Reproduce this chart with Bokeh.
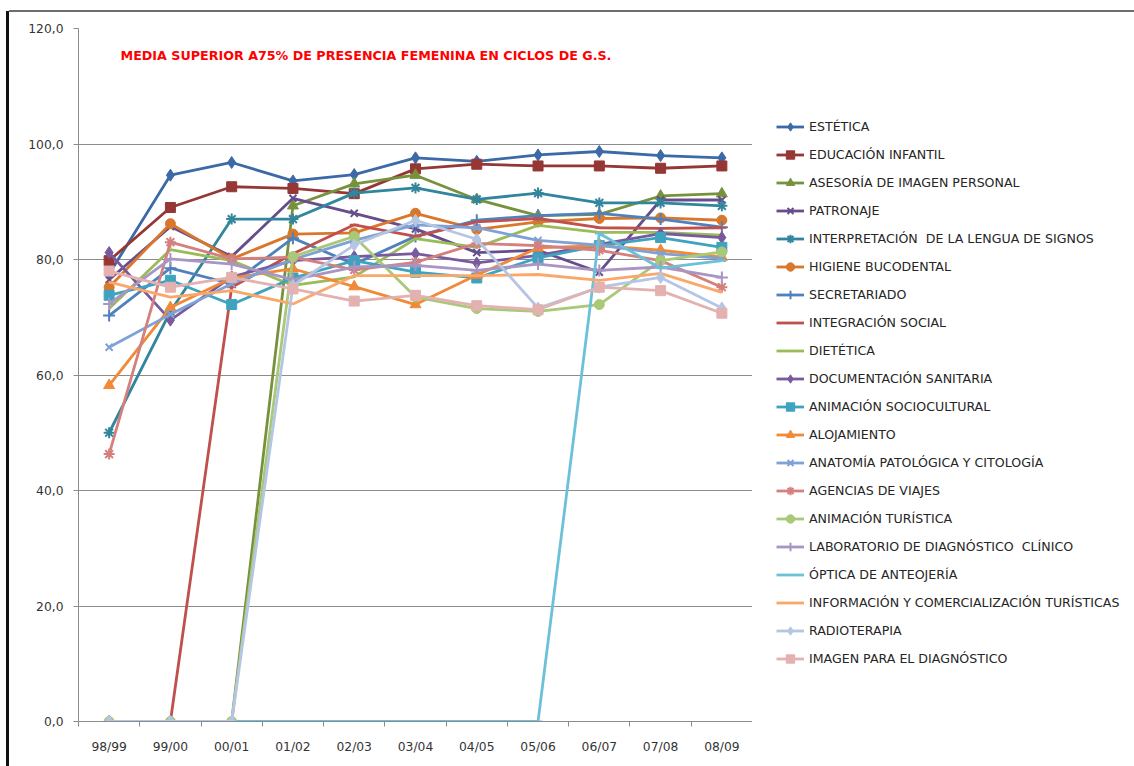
from bokeh.plotting import figure
from bokeh.layouts import row
from bokeh.models import (FactorRange, Range1d, LinearAxis, CategoricalAxis, FixedTicker,
                          Legend, LegendItem, Label, InlineStyleSheet)
from bokeh.embed import file_html
from bokeh.resources import INLINE

# ---------------- data ----------------
cats = ["98/99", "99/00", "00/01", "01/02", "02/03", "03/04", "04/05", "05/06", "06/07", "07/08", "08/09"]
y_ticks = [0, 20, 40, 60, 80, 100, 120]
y_tick_labels = ["0,0", "20,0", "40,0", "60,0", "80,0", "100,0", "120,0"]
title_text = "MEDIA SUPERIOR A75% DE PRESENCIA FEMENINA EN CICLOS DE G.S."

names = [
    "ESTÉTICA", "EDUCACIÓN INFANTIL", "ASESORÍA DE IMAGEN PERSONAL", "PATRONAJE",
    "INTERPRETACIÓN  DE LA LENGUA DE SIGNOS", "HIGIENE BUCODENTAL", "SECRETARIADO",
    "INTEGRACIÓN SOCIAL", "DIETÉTICA", "DOCUMENTACIÓN SANITARIA", "ANIMACIÓN SOCIOCULTURAL",
    "ALOJAMIENTO", "ANATOMÍA PATOLÓGICA Y CITOLOGÍA", "AGENCIAS DE VIAJES", "ANIMACIÓN TURÍSTICA",
    "LABORATORIO DE DIAGNÓSTICO  CLÍNICO", "ÓPTICA DE ANTEOJERÍA",
    "INFORMACIÓN Y COMERCIALIZACIÓN TURÍSTICAS", "RADIOTERAPIA", "IMAGEN PARA EL DIAGNÓSTICO",
]

estetica = [77.5, 94.6, 96.8, 93.6, 94.7, 97.6, 97.0, 98.1, 98.7, 98.0, 97.6]
educacion_infantil = [79.8, 89.0, 92.6, 92.3, 91.4, 95.7, 96.5, 96.2, 96.2, 95.8, 96.2]
asesoria_imagen = [0.0, 0.0, 0.0, 89.3, 93.1, 94.6, 90.4, 87.6, 87.8, 91.0, 91.4]
patronaje = [76.5, 85.7, 80.5, 90.6, 88.0, 85.3, 81.2, 81.6, 77.8, 90.3, 90.3]
interpretacion = [50.0, 71.0, 87.0, 87.0, 91.5, 92.4, 90.4, 91.5, 89.8, 89.8, 89.3]
higiene = [75.2, 86.2, 80.1, 84.4, 84.6, 88.0, 85.2, 86.5, 87.1, 87.2, 86.8]
secretariado = [70.3, 78.5, 75.8, 83.7, 79.2, 84.0, 86.8, 87.6, 88.0, 87.0, 85.6]
integracion = [0.0, 0.0, 75.2, 81.0, 86.0, 84.0, 86.5, 87.1, 85.5, 85.4, 85.5]
dietetica = [71.5, 81.7, 79.8, 75.5, 77.0, 83.6, 82.1, 85.9, 84.7, 84.7, 84.2]
documentacion = [81.2, 69.5, 77.0, 79.8, 80.5, 81.0, 79.4, 80.7, 82.6, 84.5, 83.8]
animacion_socio = [73.8, 76.4, 72.2, 76.8, 79.8, 77.8, 76.8, 80.3, 82.4, 83.8, 82.1]
alojamiento = [58.2, 71.7, 76.8, 78.4, 75.3, 72.2, 77.3, 82.0, 82.4, 81.6, 80.4]
anatomia = [64.8, 70.5, 75.8, 80.0, 83.3, 86.0, 85.5, 83.3, 82.5, 81.0, 80.2]
agencias = [46.3, 83.0, 80.1, 80.4, 78.2, 79.5, 82.8, 82.4, 81.6, 79.8, 75.2]
animacion_turistica = [0.0, 0.0, 0.0, 80.5, 84.0, 73.5, 71.5, 71.0, 72.2, 79.8, 81.3]
laboratorio = [72.3, 80.1, 79.2, 76.5, 78.7, 79.0, 78.1, 79.2, 78.1, 78.7, 76.9]
optica = [0.0, 0.0, 0.0, 0.0, 0.0, 0.0, 0.0, 0.0, 84.5, 78.5, 79.8]
informacion = [76.1, 73.5, 74.6, 72.3, 77.2, 77.2, 77.2, 77.4, 76.4, 77.6, 74.3]
radioterapia = [0.0, 0.0, 0.0, 75.5, 82.5, 86.8, 83.5, 71.6, 75.2, 76.9, 71.6]
imagen_diagnostico = [78.0, 75.2, 76.9, 74.9, 72.8, 73.8, 72.0, 71.3, 75.2, 74.6, 70.7]

series = [estetica, educacion_infantil, asesoria_imagen, patronaje, interpretacion, higiene,
          secretariado, integracion, dietetica, documentacion, animacion_socio, alojamiento,
          anatomia, agencias, animacion_turistica, laboratorio, optica, informacion,
          radioterapia, imagen_diagnostico]

colors = ["#3B6AA6", "#953735", "#76923C", "#664D8C", "#31859C", "#D9782D", "#4F81BD",
          "#C0504D", "#9BBB59", "#7A5A9E", "#3FA3BF", "#F08A37", "#7EA1D6", "#D4807E",
          "#A9C878", "#A895C4", "#6CC0D8", "#FAA86A", "#B4C6E4", "#E2B1B0"]
markers = ["diamond", "square", "triangle", "x", "asterisk", "circle", "cross", "dash", None,
           "diamond", "square", "triangle", "x", "asterisk", "circle", "cross", "dash", None,
           "diamond", "square"]
msizes = {"diamond": 12, "square": 10, "triangle": 11, "x": 10, "asterisk": 11, "circle": 10,
          "cross": 12, "dash": 9}

# ---------------- layout ----------------
H = 766
W_MAIN, W_LEG = 752, 382
FL, FT, FB = 78, 28, 721
FONT = "DejaVu Sans"
GRID = "#8C8C8C"

p = figure(width=W_MAIN, height=H, x_range=FactorRange(*cats), y_range=Range1d(0, 120),
           output_backend="svg", toolbar_location=None, x_axis_location=None,
           y_axis_location=None, min_border_left=FL, min_border_right=0,
           min_border_top=FT, min_border_bottom=H - FB)
p.outline_line_color = None
p.background_fill_color = "white"
p.border_fill_color = None

yaxis = LinearAxis(ticker=FixedTicker(ticks=y_ticks),
                   major_label_overrides={t: l for t, l in zip(y_ticks, y_tick_labels)})
yaxis.axis_line_color = GRID
yaxis.major_tick_line_color = GRID
yaxis.major_tick_in = 0
yaxis.major_tick_out = 5
yaxis.minor_tick_line_color = None
yaxis.major_label_standoff = 10
yaxis.major_label_text_font = FONT
yaxis.major_label_text_font_size = "12.3px"
yaxis.major_label_text_color = "#333333"
p.add_layout(yaxis, "left")

# tick marks at category boundaries (synthetic coordinates 0..n)
tick_axis = LinearAxis(ticker=FixedTicker(ticks=list(range(len(cats) + 1))),
                       major_label_overrides={i: "" for i in range(len(cats) + 1)})
tick_axis.axis_line_color = GRID
tick_axis.major_tick_line_color = GRID
tick_axis.major_tick_in = 0
tick_axis.major_tick_out = 5
tick_axis.minor_tick_line_color = None
tick_axis.major_label_text_font_size = "0px"
tick_axis.major_label_standoff = 0
p.add_layout(tick_axis, "below")

xaxis = CategoricalAxis()
xaxis.axis_line_color = None
xaxis.major_tick_line_color = None
xaxis.major_label_standoff = 7
xaxis.major_label_text_font = FONT
xaxis.major_label_text_font_size = "12.3px"
xaxis.major_label_text_color = "#333333"
p.add_layout(xaxis, "below")

p.ygrid.ticker = FixedTicker(ticks=y_ticks)
p.ygrid.grid_line_color = GRID
p.ygrid.grid_line_width = 1
p.xgrid.grid_line_color = None


def draw(fig, vals, col, mk):
    rs = [fig.line(cats, vals, line_color=col, line_width=2.8)]
    if mk is not None:
        lw = 2 if mk in ("x", "asterisk", "cross", "dash") else 1
        rs.append(fig.scatter(cats, vals, marker=mk, size=msizes[mk], fill_color=col,
                              line_color=col, line_width=lw))
    return rs


for vals, col, mk in zip(series, colors, markers):
    draw(p, vals, col, mk)

p.add_layout(Label(x=42, y=666, x_units="screen", y_units="screen", text=title_text,
                   text_font=FONT, text_font_style="bold", text_font_size="12.7px",
                   text_color="#FF0000", text_baseline="middle"))

# ---------------- legend panel (same series, ranges set so only the key shows) ----------------
pl = figure(width=W_LEG, height=H, x_range=FactorRange(*cats), y_range=Range1d(1000, 1001),
            output_backend="svg", toolbar_location=None, x_axis_location=None,
            y_axis_location=None, min_border_left=0, min_border_right=0,
            min_border_top=0, min_border_bottom=0)
pl.outline_line_color = None
pl.background_fill_color = None
pl.border_fill_color = None
pl.grid.grid_line_color = None

items = []
for name, vals, col, mk in zip(names, series, colors, markers):
    items.append(LegendItem(label=name, renderers=draw(pl, vals, col, mk)))

legend = Legend(items=items, location=(24, 52))
legend.border_line_color = None
legend.background_fill_alpha = 0
legend.margin = 0
legend.padding = 5
legend.spacing = 7
legend.glyph_width = 28
legend.glyph_height = 21
legend.label_height = 21
legend.label_standoff = 5
legend.label_text_font = FONT
legend.label_text_font_size = "12.6px"
legend.label_text_color = "#262626"
pl.add_layout(legend)

layout = row(p, pl, spacing=0)
# chart-box edges (left black bar, top grey line) painted behind the transparent borders
layout.stylesheets = [InlineStyleSheet(css=(
    ":host { background: "
    "linear-gradient(#111111, #111111) 6px 11px / 3px 100% no-repeat, "
    "linear-gradient(#6e6e6e, #6e6e6e) 9px 10px / 100% 2px no-repeat, "
    "white; }"))]

open("out.html", "w").write(file_html(layout, INLINE))
